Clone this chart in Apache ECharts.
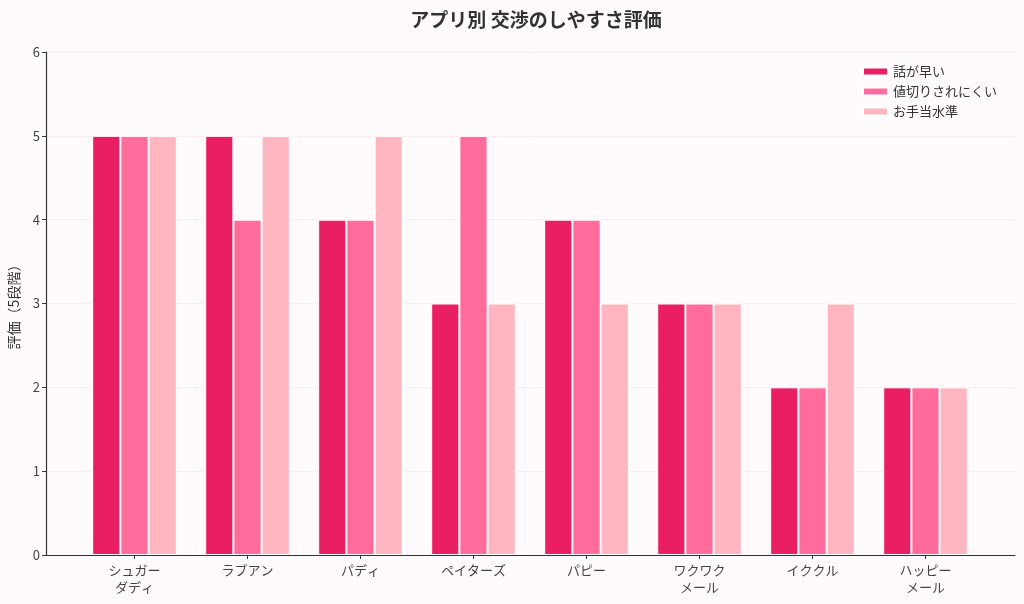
<!DOCTYPE html>
<html>
<head>
<meta charset="utf-8">
<script src="https://cdn.jsdelivr.net/npm/echarts@6/dist/echarts.min.js"></script>
<style>
    html, body { margin: 0; padding: 0; background: #fffafc; }
    #main { width: 1024px; height: 604px; }
</style>
</head>
<body>
<div id="main"></div>
<script>
/* アプリ別 交渉のしやすさ評価 */
var apps = ['シュガー\nダディ', 'ラブアン', 'パディ', 'ペイターズ', 'パピー', 'ワクワク\nメール', 'イククル', 'ハッピー\nメール'];
var fastTalk = [5, 5, 4, 3, 4, 3, 2, 2];
var noHaggle = [5, 4, 4, 5, 4, 3, 2, 2];
var allowance = [5, 5, 5, 3, 3, 3, 3, 2];
var seriesNames = ['話が早い', '値切りされにくい', 'お手当水準'];
var colors = ['#e91e63', '#ff6b9a', '#ffb6c1'];
var yTicks = [0, 1, 2, 3, 4, 5, 6];

(function () {
    'use strict';
    var font = '"Noto Sans CJK JP", "Noto Sans", sans-serif';
    var chart = echarts.init(document.getElementById('main'));

    function bar(name, data, idx) {
        return {
            name: name,
            type: 'bar',
            xAxisIndex: 1,
            yAxisIndex: 1,
            data: data,
            barWidth: 28.2,
            barGap: '0%',
            itemStyle: { color: colors[idx], borderColor: '#ffffff', borderWidth: 1 },
            emphasis: { disabled: true }
        };
    }

    var option = {
        backgroundColor: '#fffafc',
        animation: false,
        textStyle: { fontFamily: font },
        title: {
            text: 'アプリ別 交渉のしやすさ評価',
            left: 531,
            textAlign: 'center',
            top: 5,
            textStyle: { fontFamily: font, fontSize: 19, fontWeight: 'bold', color: '#333333' }
        },
        legend: {
            data: seriesNames,
            orient: 'vertical',
            left: 857,
            top: 60,
            itemWidth: 25,
            itemHeight: 8,
            itemGap: 7,
            icon: 'rect',
            textStyle: { fontFamily: font, fontSize: 13, color: '#333333' }
        },
        grid: [
            { left: 46, right: 9, top: 52, bottom: 49, outerBoundsMode: 'none' },
            { left: 78, right: 42, top: 52, bottom: 49, outerBoundsMode: 'none' }
        ],
        xAxis: [
            {
                type: 'value', gridIndex: 0, min: 0, max: 1,
                axisLine: { show: true, lineStyle: { color: '#333333', width: 1.2 } },
                axisTick: { show: false }, axisLabel: { show: false }, splitLine: { show: false }
            },
            {
                type: 'category', gridIndex: 1, data: apps,
                axisLine: { show: false },
                axisTick: { show: true, alignWithLabel: true, length: 4, lineStyle: { color: '#333333' } },
                axisLabel: { color: '#444444', fontSize: 13, lineHeight: 17, margin: 7, fontFamily: font }
            }
        ],
        yAxis: [
            {
                type: 'value', gridIndex: 0, min: 0, max: 6, interval: 1,
                name: '評価（5段階）', nameLocation: 'middle', nameGap: 25, nameRotate: 90,
                nameTextStyle: { fontFamily: font, fontSize: 14, color: '#333333' },
                axisLine: { show: true, lineStyle: { color: '#333333', width: 1.2 } },
                axisTick: { show: true, length: 4, lineStyle: { color: '#333333' } },
                axisLabel: {
                    color: '#444444', fontSize: 13, margin: 6, fontFamily: font,
                    formatter: function (v) { return yTicks.indexOf(v) >= 0 ? String(v) : ''; }
                },
                splitLine: { show: true, lineStyle: { color: '#fcecf1', width: 1 } }
            },
            {
                type: 'value', gridIndex: 1, min: 0, max: 6, interval: 1, show: false
            }
        ],
        series: [
            bar(seriesNames[0], fastTalk, 0),
            bar(seriesNames[1], noHaggle, 1),
            bar(seriesNames[2], allowance, 2)
        ]
    };
    chart.setOption(option);
})();
</script>
</body>
</html>
